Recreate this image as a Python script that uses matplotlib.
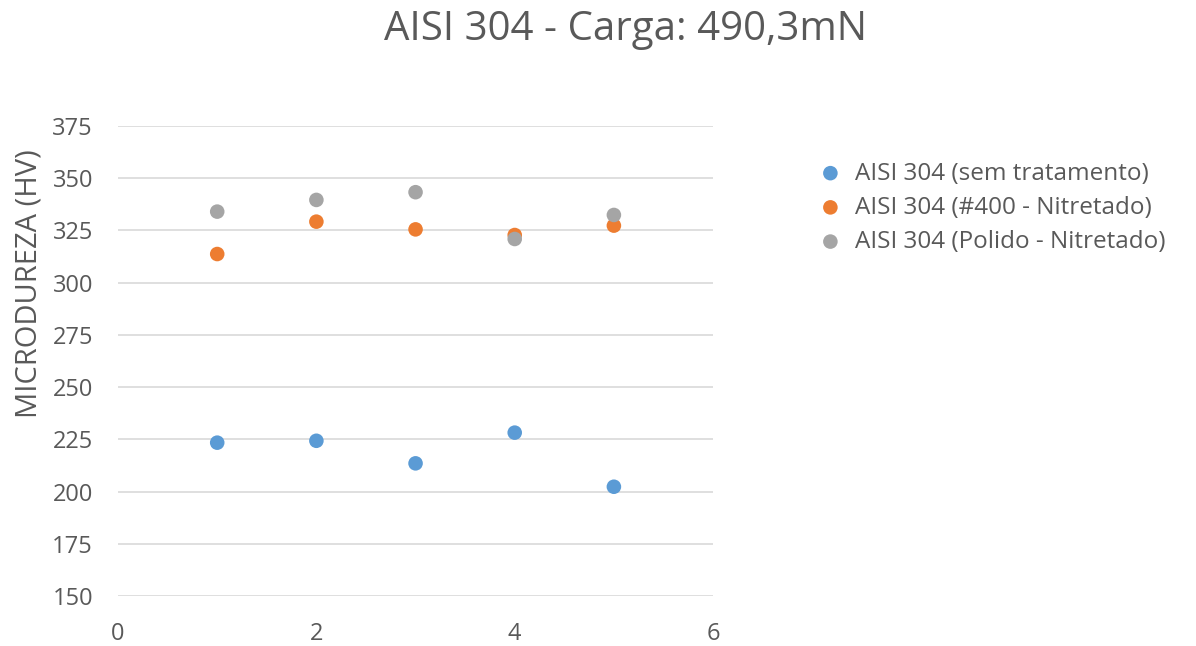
"""Scatter of microhardness for AISI 304 samples under 490,3mN load."""

import matplotlib
matplotlib.use("Agg")
import matplotlib.pyplot as plt

plt.rcParams["font.family"] = ["Open Sans", "DejaVu Sans"]

TEXT = "#595959"
GRID = "#d9d9d9"

x_pos = [1, 2, 3, 4, 5]
sem_tratamento = [223.4, 224.3, 213.5, 228.2, 202.3]
lixado_400 = [313.7, 329.2, 325.5, 322.8, 327.3]
polido = [334.0, 339.6, 343.3, 320.9, 332.4]

series = [
    ("AISI 304 (sem tratamento)", sem_tratamento, "#5B9BD5"),
    ("AISI 304 (#400 - Nitretado)", lixado_400, "#ED7D31"),
    ("AISI 304 (Polido - Nitretado)", polido, "#A5A5A5"),
]

y_ticks = [150, 175, 200, 225, 250, 275, 300, 325, 350, 375]
x_ticks = [0, 2, 4, 6]


def main() -> None:
    fig = plt.figure(figsize=(11.96, 6.46), dpi=100)
    ax = fig.add_axes([0.0987, 0.0774, 0.4975, 0.7276])

    for label, values, color in series:
        ax.scatter(x_pos, values, s=110, color=color, label=label,
                   edgecolors="none", zorder=3)

    ax.set_xlim(0, 6)
    ax.set_ylim(150, 375)
    ax.set_xticks(x_ticks)
    ax.set_yticks(y_ticks)
    ax.grid(axis="y", color=GRID, linewidth=1.2, zorder=0)
    for side in ["top", "right", "left", "bottom"]:
        ax.spines[side].set_visible(False)
    ax.tick_params(length=0, labelsize=17, colors=TEXT)
    ax.tick_params(axis="y", pad=18)
    ax.tick_params(axis="x", pad=19)

    ax.set_ylabel("MICRODUREZA (HV)", fontsize=21, color=TEXT)
    ax.yaxis.set_label_coords(-0.125, 0.665)
    fig.suptitle("AISI 304 - Carga: 490,3mN", fontsize=29, color=TEXT,
                 x=0.523, y=0.985)

    ax.legend(loc="upper left", bbox_to_anchor=(1.14, 0.945), frameon=False,
              fontsize=17.5, labelcolor=TEXT, handletextpad=0.0,
              labelspacing=0.42, markerscale=1.0, borderaxespad=0)

    fig.savefig("out.png", dpi=100)
    plt.close(fig)


if __name__ == "__main__":
    main()
